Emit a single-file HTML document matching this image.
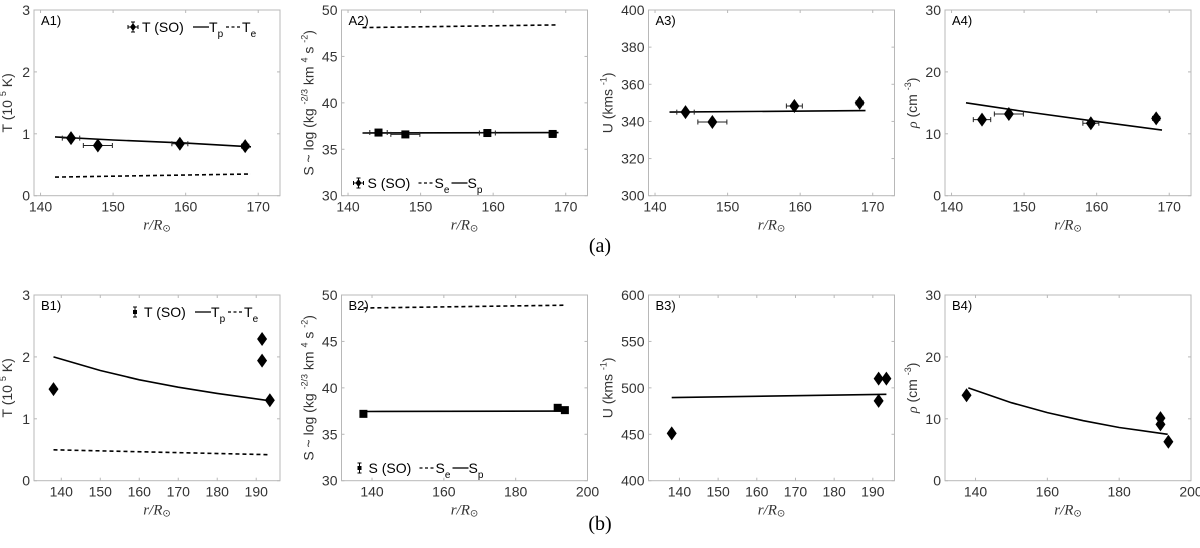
<!DOCTYPE html>
<html><head><meta charset="utf-8"><style>
html,body{margin:0;padding:0;background:#fff;}
svg{display:block;font-family:"Liberation Sans",sans-serif;}
</style></head><body>
<svg id="fig" width="1200" height="548" viewBox="0 0 1200 548" xmlns="http://www.w3.org/2000/svg"></svg>
<script>
// ---- data ----
const a1PtsX=[144.2,147.9,159.2,168.2];
const a1PtsY=[0.93,0.81,0.84,0.80];
const a1ErrX=[1.2,2.0,1.1,0.5];
const a1TpX=[142,150,160,169];
const a1TpY=[0.95,0.9,0.85,0.79];
const a1TeX=[142,169];
const a1TeY=[0.30,0.35];

const a2PtsX=[144.2,147.9,159.2,168.2];
const a2PtsY=[36.8,36.6,36.75,36.65];
const a2ErrX=[1.2,2.0,1.1,0.5];
const a2SpX=[142,169];
const a2SpY=[36.75,36.8];
const a2SeX=[142,169];
const a2SeY=[48.1,48.4];

const a3PtsX=[144.2,147.9,159.2,168.2];
const a3PtsY=[345,339.7,348.3,350];
const a3ErrX=[1.2,2.0,1.1,0.5];
const a3LineX=[142,169];
const a3LineY=[345,345.8];

const a4PtsX=[144.2,147.9,159.2,168.2];
const a4PtsY=[12.3,13.2,11.7,12.5];
const a4ErrX=[1.2,2.0,1.1,0.5];
const a4LineX=[142,150,160,169];
const a4LineY=[15,13.6,12,10.6];

const b1PtsX=[138,191.5,191.5,193.5];
const b1PtsY=[1.48,2.29,1.94,1.30];
const b1TpX=[138,150,160,170,180,193.5];
const b1TpY=[2.0,1.78,1.63,1.51,1.41,1.29];
const b1TeX=[138,193.5];
const b1TeY=[0.5,0.42];

const b2PtsX=[137.6,191.7,193.7];
const b2PtsY=[37.2,37.85,37.6];
const b2SpX=[137.6,193.7];
const b2SpY=[37.45,37.5];
const b2SeX=[137.6,193.7];
const b2SeY=[48.6,48.9];

const b3PtsX=[138,191.5,191.5,193.5];
const b3PtsY=[451,510,486,510];
const b3LineX=[138,193.5];
const b3LineY=[489.5,493];

const b4PtsX=[137.5,191.5,191.5,193.7];
const b4PtsY=[13.8,10.1,9.1,6.3];
const b4LineX=[138,150,160,170,180,193.5];
const b4LineY=[15,12.6,11.0,9.7,8.6,7.5];

const xTicksA=[140,150,160,170];
const xTicksB1=[140,150,160,170,180,190];
const xTicksB2=[140,160,180,200];
const yTicksT=[0,1,2,3];
const yTicksS=[30,35,40,45,50];
const yTicksUA=[300,320,340,360,380,400];
const yTicksUB=[400,450,500,550,600];
const yTicksR=[0,10,20,30];

const NS="http://www.w3.org/2000/svg";
const svg=document.getElementById('fig');
function mk(tag,attrs,parent){const e=document.createElementNS(NS,tag);for(const k in attrs)e.setAttribute(k,attrs[k]);(parent||svg).appendChild(e);return e;}

function panel(o){
  const g=mk('g',{});
  
  
  const L=o.left,T=o.top,W=246,H=185.7;
  const sx=v=>L+(v-o.xd[0])/(o.xd[1]-o.xd[0])*W;
  const sy=v=>T+H-(v-o.yd[0])/(o.yd[1]-o.yd[0])*H;
  const box=mk('rect',{x:L,y:T,width:W,height:H,fill:'none',stroke:'#b8b8b8','stroke-width':1},g);
  
  
  o.xt.forEach(v=>{
    const x=sx(v);
    mk('line',{x1:x,y1:T+H,x2:x,y2:T+H-3,stroke:'#b8b8b8'},g);
    mk('line',{x1:x,y1:T,x2:x,y2:T+3,stroke:'#b8b8b8'},g);
    const t=mk('text',{x:x,y:T+H+16,'font-size':14,fill:'#333','text-anchor':'middle'},g);
    t.textContent=v;
    
    
  });
  o.yt.forEach(v=>{
    const y=sy(v);
    mk('line',{x1:L,y1:y,x2:L+3,y2:y,stroke:'#b8b8b8'},g);
    mk('line',{x1:L+W,y1:y,x2:L+W-3,y2:y,stroke:'#b8b8b8'},g);
    const t=mk('text',{x:L-4,y:y+5,'font-size':14,fill:'#333','text-anchor':'end'},g);
    t.textContent=v;
    
    
  });
  const xl=mk('text',{x:L+W/2,y:T+H+34,'font-size':15,'font-family':'"Liberation Serif",serif','font-style':'italic',fill:'#333','text-anchor':'middle'},g);
  xl.innerHTML='r/R<tspan font-size="10" dy="2" font-style="normal">⊙</tspan>';
  
  
  const yl=mk('text',{transform:`translate(${L-o.yoff},${T+H/2}) rotate(-90)`,'font-size':14,fill:'#333','text-anchor':'middle'},g);
  yl.innerHTML=o.ylab;
  
  
  const pl=mk('text',{x:L+7,y:T+15,'font-size':13,fill:'#000'},g);
  pl.textContent=o.label;
  
  
  o.lines.forEach(ln=>{
    const d=ln.x.map((v,i)=>(i?'L':'M')+sx(v).toFixed(1)+' '+sy(ln.y[i]).toFixed(1)).join(' ');
    const p=mk('path',{d:d,fill:'none',stroke:'#000','stroke-width':1.6,'stroke-dasharray':ln.dash?'4 3':'none'},g);
    
    
  });
  o.px.forEach((xv,i)=>{
    const x=sx(xv),y=sy(o.py[i]);
    if(o.ex){
      const e=o.ex[i];
      const eb=mk('path',{d:`M${sx(xv-e)} ${y} L${sx(xv+e)} ${y} M${sx(xv-e)} ${y-2.5} L${sx(xv-e)} ${y+2.5} M${sx(xv+e)} ${y-2.5} L${sx(xv+e)} ${y+2.5}`,stroke:'#222','stroke-width':1,fill:'none'},g);
      
      
    }
    let m;
    if(o.sq){m=mk('rect',{x:x-4,y:y-4,width:8,height:8,fill:'#000'},g);}
    else{m=mk('path',{d:`M${x} ${y-7} L${x+5} ${y} L${x} ${y+7} L${x-5} ${y} Z`,fill:'#000'},g);}
    
    
  });
  if(o.legend){
    const lg=mk('g',{},g);
    
    
    const lx=L+o.legend.dx,ly=T+o.legend.dy;
    mk('path',{d:`M${lx} ${ly-5} L${lx} ${ly+5} M${lx-2} ${ly-5} L${lx+2} ${ly-5} M${lx-2} ${ly+5} L${lx+2} ${ly+5}`+(o.legend.small?'':` M${lx-5} ${ly} L${lx+5} ${ly} M${lx-5} ${ly-2} L${lx-5} ${ly+2} M${lx+5} ${ly-2} L${lx+5} ${ly+2}`),stroke:'#000','stroke-width':1},lg);
    if(o.legend.small) mk('rect',{x:lx-2,y:ly-2,width:4,height:4,fill:'#000'},lg);
    else mk('path',{d:`M${lx} ${ly-4} L${lx+3} ${ly} L${lx} ${ly+4} L${lx-3} ${ly} Z`,fill:'#000'},lg);
    const t1=mk('text',{x:lx+9,y:ly+5,'font-size':14,fill:'#000'},lg);
    t1.textContent=o.legend.sym+' (SO)';
    let cx=lx+60;
    o.legend.order.forEach(it=>{
      mk('line',{x1:cx,y1:ly,x2:cx+16,y2:ly,stroke:'#000','stroke-width':1.3,'stroke-dasharray':it.dash?'3 2.5':'none'},lg);
      const t=mk('text',{x:cx+16,y:ly+5,'font-size':14,fill:'#000'},lg);
      t.innerHTML=o.legend.sym+'<tspan font-size="10" dy="5">'+it.sub+'</tspan>';
      cx+=33;
    });
  }
}

const topA=10, topB=295;
const lefts=[34,341.5,648.5,945];
const yT='T (10 <tspan font-size="9" dy="-6">5</tspan><tspan dy="6"> K)</tspan>';
const yS='S ~ log (kg <tspan font-size="9" dy="-6">-2/3</tspan><tspan dy="6"> km </tspan><tspan font-size="9" dy="-6">4</tspan><tspan dy="6"> s </tspan><tspan font-size="9" dy="-6">-2</tspan><tspan dy="6">)</tspan>';
const yU='U (kms <tspan font-size="9" dy="-6">-1</tspan><tspan dy="6">)</tspan>';
const yR='<tspan font-family="Liberation Serif,serif" font-style="italic">ρ</tspan> (cm <tspan font-size="9" dy="-6">-3</tspan><tspan dy="6">)</tspan>';

panel({name:'panel-a1',label:'A1)',left:lefts[0],top:topA,xd:[139.1,173],yd:[0,3],xt:xTicksA,yt:yTicksT,ylab:yT,yoff:22,
  px:a1PtsX,py:a1PtsY,ex:a1ErrX,lines:[{x:a1TpX,y:a1TpY,name:'tp-line'},{x:a1TeX,y:a1TeY,dash:1,name:'te-line'}],
  legend:{dx:99,dy:17,sym:'T',order:[{sub:'p'},{sub:'e',dash:1}]}});
panel({name:'panel-a2',label:'A2)',left:lefts[1],top:topA,xd:[139.1,173],yd:[30,50],xt:xTicksA,yt:yTicksS,ylab:yS,yoff:28,sq:1,
  px:a2PtsX,py:a2PtsY,ex:a2ErrX,lines:[{x:a2SpX,y:a2SpY,name:'sp-line'},{x:a2SeX,y:a2SeY,dash:1,name:'se-line'}],
  legend:{dx:17,dy:173,sym:'S',order:[{sub:'e',dash:1},{sub:'p'}]}});
panel({name:'panel-a3',label:'A3)',left:lefts[2],top:topA,xd:[139.1,173],yd:[300,400],xt:xTicksA,yt:yTicksUA,ylab:yU,yoff:36,
  px:a3PtsX,py:a3PtsY,ex:a3ErrX,lines:[{x:a3LineX,y:a3LineY,name:'u-model-line'}]});
panel({name:'panel-a4',label:'A4)',left:lefts[3],top:topA,xd:[139.1,173],yd:[0,30],xt:xTicksA,yt:yTicksR,ylab:yR,yoff:28,
  px:a4PtsX,py:a4PtsY,ex:a4ErrX,lines:[{x:a4LineX,y:a4LineY,name:'rho-model-line'}]});

panel({name:'panel-b1',label:'B1)',left:lefts[0],top:topB,xd:[133,196.1],yd:[0,3],xt:xTicksB1,yt:yTicksT,ylab:yT,yoff:22,
  px:b1PtsX,py:b1PtsY,lines:[{x:b1TpX,y:b1TpY,name:'tp-line'},{x:b1TeX,y:b1TeY,dash:1,name:'te-line'}],
  legend:{dx:101,dy:17,sym:'T',small:1,order:[{sub:'p'},{sub:'e',dash:1}]}});
panel({name:'panel-b2',label:'B2)',left:lefts[1],top:topB,xd:[131.5,200],yd:[30,50],xt:xTicksB2,yt:yTicksS,ylab:yS,yoff:28,sq:1,
  px:b2PtsX,py:b2PtsY,lines:[{x:b2SpX,y:b2SpY,name:'sp-line'},{x:b2SeX,y:b2SeY,dash:1,name:'se-line'}],
  legend:{dx:18,dy:173,sym:'S',small:1,order:[{sub:'e',dash:1},{sub:'p'}]}});
panel({name:'panel-b3',label:'B3)',left:lefts[2],top:topB,xd:[132,195.6],yd:[400,600],xt:xTicksB1,yt:yTicksUB,ylab:yU,yoff:36,
  px:b3PtsX,py:b3PtsY,lines:[{x:b3LineX,y:b3LineY,name:'u-model-line'}]});
panel({name:'panel-b4',label:'B4)',left:lefts[3],top:topB,xd:[131.5,200],yd:[0,30],xt:xTicksB2,yt:yTicksR,ylab:yR,yoff:28,
  px:b4PtsX,py:b4PtsY,lines:[{x:b4LineX,y:b4LineY,name:'rho-model-line'}]});

const ca=mk('text',{x:600,y:252,'font-size':20,'font-family':'"Liberation Serif",serif',fill:'#000','text-anchor':'middle'});
ca.textContent='(a)';


const cb=mk('text',{x:600,y:530,'font-size':20,'font-family':'"Liberation Serif",serif',fill:'#000','text-anchor':'middle'});
cb.textContent='(b)';


</script>
</body></html>
